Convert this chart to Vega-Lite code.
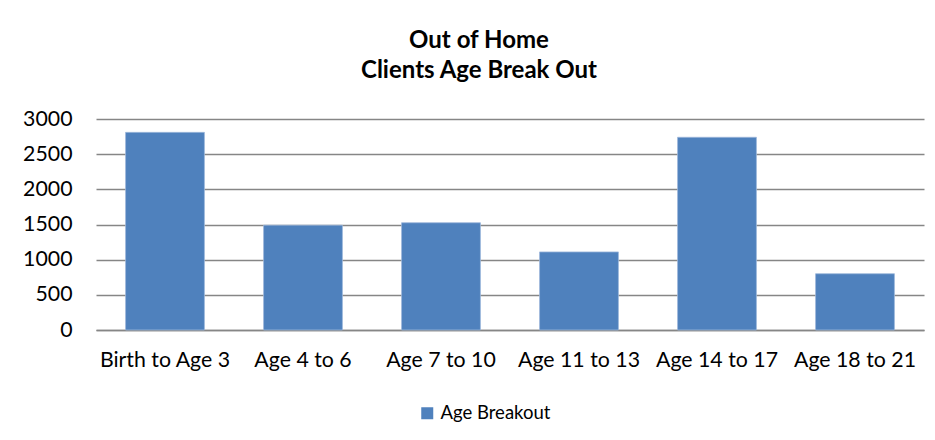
{
  "$schema": "https://vega.github.io/schema/vega-lite/v6.json",
  "width": 828,
  "height": 211,
  "autosize": {"type": "none"},
  "padding": {"left": 96, "top": 119, "right": 11, "bottom": 110},
  "background": "white",
  "config": {"view": {"stroke": null}, "font": "Lato"},
  "title": {
    "text": ["Out of Home", "Clients Age Break Out"],
    "font": "Lato",
    "fontSize": 24,
    "fontWeight": "bold",
    "color": "#000000",
    "anchor": "middle",
    "dx": -31,
    "offset": 25,
    "lineHeight": 30
  },
  "data": {
    "values": [
      {"group": "Birth to Age 3", "count": 2810},
      {"group": "Age 4 to 6", "count": 1490},
      {"group": "Age 7 to 10", "count": 1525},
      {"group": "Age 11 to 13", "count": 1110},
      {"group": "Age 14 to 17", "count": 2740},
      {"group": "Age 18 to 21", "count": 800}
    ]
  },
  "mark": {"type": "bar", "stroke": "#9DB7DA", "strokeWidth": 0.8},
  "encoding": {
    "x": {
      "field": "group",
      "type": "nominal",
      "sort": null,
      "scale": {"paddingInner": 0.4286, "paddingOuter": 0.2143},
      "axis": {
        "title": null,
        "labelAngle": 0,
        "labelFontSize": 21.3,
        "labelColor": "#000000",
        "labelPadding": 19,
        "ticks": false,
        "domainColor": "#868686",
        "domainWidth": 1.4,
        "grid": false
      }
    },
    "y": {
      "field": "count",
      "type": "quantitative",
      "scale": {"domain": [0, 3000], "nice": false},
      "axis": {
        "title": null,
        "format": "d",
        "values": [0, 500, 1000, 1500, 2000, 2500, 3000],
        "labelFontSize": 21.3,
        "labelColor": "#000000",
        "labelPadding": 24,
        "ticks": false,
        "domain": false,
        "grid": true,
        "gridColor": "#868686",
        "gridWidth": 1.3
      }
    },
    "color": {
      "datum": "Age Breakout",
      "scale": {"range": ["#4F81BD"]},
      "legend": {
        "title": null,
        "orient": "none",
        "legendX": 322,
        "legendY": 285,
        "symbolType": "square",
        "symbolSize": 144,
        "symbolStrokeWidth": 0,
        "labelFontSize": 18.5,
        "labelColor": "#000000",
        "labelOffset": 4
      }
    }
  }
}
